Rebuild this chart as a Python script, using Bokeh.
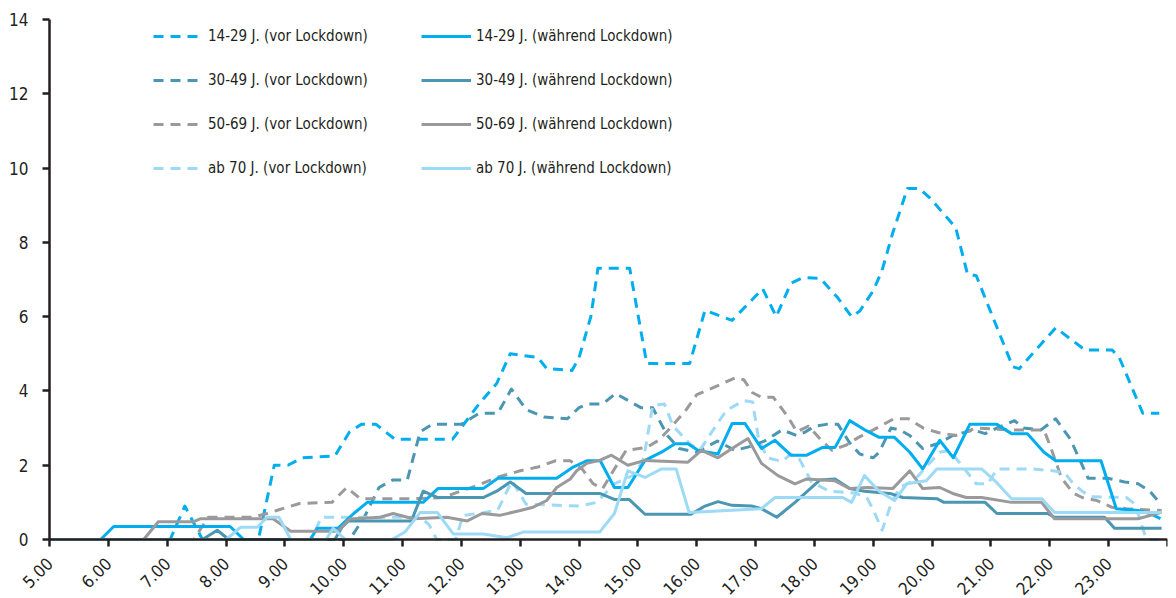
import math
from bokeh.plotting import figure
from bokeh.models import Range1d, FixedTicker, Legend, LegendItem
from bokeh.embed import file_html
from bokeh.resources import INLINE

# ---------------- data (hour of day, value) ----------------
# 14-29 J. (vor Lockdown)
A_t = [5.0, 7.05, 7.3, 7.6, 8.55, 8.82, 9.05, 9.3, 9.85, 10.1,
       10.3, 10.55, 10.87, 11.85, 12.3, 12.6, 12.83, 13.3, 13.45, 13.88,
       14.0, 14.2, 14.32, 14.86, 15.15, 15.88, 16.14, 16.6, 17.12, 17.35,
       17.6, 17.8, 18.1, 18.4, 18.63, 18.77, 19.0, 19.15, 19.33, 19.58,
       19.78, 19.96, 20.4, 20.6, 20.75, 21.37, 21.48, 22.1, 22.6, 23.06,
       23.18, 23.58, 23.86]
A_v = [0, 0, 0.9, 0, 0, 2.0, 2.0, 2.2, 2.25, 2.9,
       3.1, 3.1, 2.7, 2.7, 3.65, 4.2, 5.0, 4.9, 4.6, 4.55,
       4.9, 6.0, 7.3, 7.3, 4.74, 4.74, 6.17, 5.9, 6.75, 6.0,
       6.9, 7.05, 7.03, 6.5, 6.0, 6.15, 6.7, 7.25, 8.25, 9.45,
       9.45, 9.2, 8.4, 7.15, 7.1, 4.65, 4.6, 5.7, 5.1, 5.1,
       4.9, 3.4, 3.4]

# 30-49 J. (vor Lockdown)
B_t = [5.0, 10.1, 10.35, 10.6, 10.83, 11.08, 11.3, 11.5, 12.0, 12.3,
       12.62, 12.85, 13.1, 13.4, 13.8, 14.0, 14.15, 14.4, 14.62, 15.05,
       15.25, 15.5, 15.7, 16.0, 16.35, 16.65, 16.9, 17.15, 17.45, 17.7,
       17.85, 18.0, 18.2, 18.4, 18.6, 18.77, 19.0, 19.1, 19.3, 19.45,
       19.62, 19.84, 20.13, 20.35, 20.7, 20.9, 21.1, 21.4, 21.55, 21.85,
       22.1, 22.35, 22.65, 22.98, 23.27, 23.5, 23.7, 23.86]
B_v = [0, 0, 0.6, 1.4, 1.6, 1.6, 2.9, 3.1, 3.1, 3.4,
       3.4, 4.05, 3.5, 3.3, 3.25, 3.55, 3.65, 3.65, 3.93, 3.55,
       3.55, 2.8, 2.45, 2.35, 2.65, 2.4, 2.5, 2.65, 2.95, 2.8,
       2.9, 3.05, 3.1, 3.1, 2.6, 2.3, 2.2, 2.35, 3.0, 2.95,
       2.8, 2.45, 2.6, 2.8, 2.95, 2.85, 3.0, 3.2, 3.0, 2.95,
       3.25, 2.7, 1.65, 1.65, 1.55, 1.5, 1.3, 1.0]

# 50-69 J. (vor Lockdown)
C_t = [5.0, 7.45, 7.7, 8.45, 8.7, 8.9, 9.25, 9.8, 10.05, 10.28,
       11.2, 11.7, 11.98, 12.27, 12.6, 13.0, 13.3, 13.6, 13.85, 14.05,
       14.24, 14.4, 14.6, 14.8, 15.15, 15.35, 15.55, 15.8, 16.0, 16.3,
       16.65, 16.8, 16.95, 17.1, 17.3, 17.55, 17.7, 17.9, 18.1, 18.3,
       18.55, 18.75, 19.0, 19.35, 19.6, 19.85, 20.1, 20.4, 20.75, 21.3,
       21.9, 22.0, 22.2, 22.4, 22.55, 22.8, 23.05, 23.3, 23.9]
C_v = [0, 0, 0.6, 0.6, 0.7, 0.8, 0.97, 1.0, 1.4, 1.1,
       1.1, 1.13, 1.3, 1.45, 1.67, 1.85, 1.95, 2.12, 2.12, 1.9,
       1.5, 1.37, 1.9, 2.4, 2.48, 2.67, 3.0, 3.45, 3.9, 4.1,
       4.35, 4.3, 3.95, 3.83, 3.83, 3.3, 2.9, 3.05, 2.7, 2.4,
       2.55, 2.75, 2.95, 3.25, 3.25, 3.0, 2.88, 2.8, 3.0, 2.95,
       2.95, 2.55, 1.65, 1.25, 1.13, 1.05, 0.87, 0.83, 0.78]

# ab 70 J. (vor Lockdown)
D_t = [5.0, 9.45, 9.62, 11.3, 11.45, 11.58, 11.9, 12.03, 12.37, 12.62,
       12.86, 13.1, 14.0, 14.3, 14.6, 14.95, 15.1, 15.25, 15.45, 15.6,
       15.88, 16.05, 16.27, 16.5, 16.8, 16.95, 17.05, 17.2, 17.45, 17.6,
       17.75, 17.95, 18.25, 18.7, 18.9, 19.0, 19.15, 19.3, 19.45, 19.7,
       19.95, 20.13, 20.3, 20.6, 20.75, 20.95, 21.1, 21.7, 22.05, 22.25,
       22.4, 22.55, 22.7, 23.3, 23.45, 23.6, 23.65, 23.9]
D_v = [0, 0, 0.6, 0.6, 0.4, 0, 0, 0.65, 0.72, 0.8,
       1.58, 0.95, 0.9, 1.0, 1.5, 1.75, 2.2, 3.6, 3.65, 3.05,
       2.58, 2.4, 2.93, 3.47, 3.74, 3.7, 2.7, 2.2, 2.1, 2.3,
       2.15, 1.55, 1.3, 1.25, 1.1, 0.8, 0.25, 0.95, 1.4, 1.6,
       2.05, 2.35, 2.4, 1.8, 1.5, 1.5, 1.9, 1.9, 1.85, 1.8,
       1.5, 1.3, 1.15, 1.13, 0.95, 0.2, 0, 0]

# 14-29 J. (während Lockdown)
E_t = [5.0, 5.87, 6.09, 8.07, 8.3, 9.43, 9.55, 9.9, 10.17, 10.4,
       11.35, 11.6, 12.37, 12.62, 13.62, 13.9, 14.13, 14.36, 14.6, 14.83,
       15.12, 15.4, 15.63, 15.85, 16.02, 16.36, 16.6, 16.82, 17.1, 17.33,
       17.6, 17.87, 18.14, 18.35, 18.6, 18.88, 19.1, 19.36, 19.62, 19.84,
       20.13, 20.36, 20.64, 21.1, 21.35, 21.62, 21.9, 22.1, 22.87, 23.13,
       23.5, 23.7, 23.88]
E_v = [0, 0, 0.35, 0.35, 0, 0, 0.3, 0.3, 0.7, 1.0,
       1.0, 1.37, 1.37, 1.65, 1.65, 1.95, 2.12, 2.12, 1.4, 1.4,
       2.13, 2.35, 2.58, 2.58, 2.4, 2.3, 3.12, 3.12, 2.45, 2.67,
       2.27, 2.27, 2.48, 2.48, 3.2, 2.93, 2.75, 2.75, 2.35, 1.9,
       2.67, 2.2, 3.1, 3.1, 2.85, 2.85, 2.35, 2.12, 2.12, 0.83,
       0.78, 0.7, 0.56]

# 30-49 J. (während Lockdown)
F_t = [5.0, 7.6, 7.85, 8.05, 9.85, 9.97, 10.08, 11.15, 11.35, 11.6,
       12.37, 12.6, 12.83, 13.1, 14.35, 14.6, 14.85, 15.12, 15.9, 16.14,
       16.36, 16.6, 16.93, 17.1, 17.36, 17.67, 18.09, 18.35, 18.6, 18.85,
       19.28, 19.5, 20.08, 20.2, 20.9, 21.1, 21.96, 22.08, 22.93, 23.1,
       23.9]
F_v = [0, 0, 0.25, 0, 0, 0.33, 0.5, 0.5, 1.3, 1.13,
       1.13, 1.3, 1.55, 1.24, 1.24, 1.08, 1.08, 0.68, 0.68, 0.9,
       1.02, 0.92, 0.9, 0.83, 0.6, 1.0, 1.6, 1.63, 1.37, 1.3,
       1.24, 1.13, 1.1, 1.0, 1.0, 0.7, 0.7, 0.6, 0.6, 0.3,
       0.3]

# 50-69 J. (während Lockdown)
G_t = [5.0, 6.6, 6.85, 7.45, 7.57, 8.8, 9.1, 9.9, 10.1, 10.62,
       10.84, 11.18, 11.75, 12.1, 12.35, 12.65, 13.0, 13.22, 13.45, 13.62,
       13.85, 13.96, 14.13, 14.35, 14.55, 14.83, 15.12, 15.85, 16.08, 16.36,
       16.6, 16.87, 17.1, 17.38, 17.67, 17.87, 18.35, 18.6, 18.9, 19.33,
       19.62, 19.84, 20.13, 20.35, 20.58, 20.84, 21.35, 21.86, 22.08, 23.5,
       23.9]
G_v = [0, 0, 0.48, 0.48, 0.56, 0.56, 0.22, 0.22, 0.55, 0.6,
       0.7, 0.56, 0.6, 0.5, 0.7, 0.65, 0.78, 0.87, 1.05, 1.4,
       1.63, 1.85, 2.05, 2.13, 2.27, 2.0, 2.13, 2.08, 2.4, 2.2,
       2.45, 2.72, 2.05, 1.72, 1.5, 1.63, 1.58, 1.37, 1.4, 1.37,
       1.85, 1.37, 1.4, 1.24, 1.13, 1.13, 1.0, 1.0, 0.56, 0.56,
       0.73]

# ab 70 J. (während Lockdown)
H_t = [5.0, 8.0, 8.25, 8.53, 8.7, 8.9, 9.1, 9.7, 9.82, 10.03,
       10.82, 11.04, 11.3, 11.59, 11.86, 12.37, 12.78, 13.05, 14.35, 14.6,
       14.83, 15.12, 15.4, 15.65, 15.87, 17.1, 17.33, 18.48, 18.63, 18.85,
       19.1, 19.36, 19.57, 19.9, 20.08, 20.84, 21.1, 21.35, 21.86, 22.08,
       23.9]
H_v = [0, 0, 0.33, 0.33, 0.6, 0.6, 0, 0, 0.3, 0,
       0, 0.2, 0.73, 0.73, 0.15, 0.15, 0.05, 0.2, 0.2, 0.7,
       1.85, 1.67, 1.9, 1.9, 0.73, 0.83, 1.13, 1.13, 1.0, 1.72,
       1.3, 1.05, 1.5, 1.58, 1.9, 1.9, 1.53, 1.1, 1.1, 0.73,
       0.73]

x_ticks = list(range(5, 25))
x_tick_labels = [f"{h}.00" for h in range(5, 24)] + [""]
y_ticks = [0, 2, 4, 6, 8, 10, 12, 14]

labels_vor = ["14-29 J. (vor Lockdown)", "30-49 J. (vor Lockdown)",
              "50-69 J. (vor Lockdown)", "ab 70 J. (vor Lockdown)"]
labels_waehrend = ["14-29 J. (während Lockdown)", "30-49 J. (während Lockdown)",
                   "50-69 J. (während Lockdown)", "ab 70 J. (während Lockdown)"]

COLORS = ["#00AEEF", "#4A96B3", "#9A9A9C", "#9DDAF6"]
FONT = "DejaVu Sans Condensed"
TXT = "#231F20"

# ---------------- figure ----------------
# The frame fills the whole page except a thin right margin; both axes are
# pinned (fixed_location) at x=5 / y=0 so their labels are drawn inside it.
PX_PER_H = 1118 / 19      # 5.00 .. 24.00 spans 1118 px
PX_PER_U = 520 / 14       # 0 .. 14 spans 520 px
X_MIN = 5 - 49 / PX_PER_H
Y_MIN = -59 / PX_PER_U
Y_MAX = 14 + 19 / PX_PER_U
p = figure(width=1176, height=598, output_backend="svg", toolbar_location=None,
           x_range=Range1d(X_MIN, 24), y_range=Range1d(Y_MIN, Y_MAX),
           min_border_left=0, min_border_right=9, min_border_top=0,
           min_border_bottom=0)
p.outline_line_color = None
p.xgrid.visible = False
p.ygrid.visible = False
p.background_fill_color = "white"

vor = [(A_t, A_v), (B_t, B_v), (C_t, C_v), (D_t, D_v)]
waehrend = [(E_t, E_v), (F_t, F_v), (G_t, G_v), (H_t, H_v)]

r_vor, r_wae = [], []
for i in range(4):
    t, v = vor[i]
    r_vor.append(p.line(t, v, line_color=COLORS[i], line_width=3,
                        line_dash="10 7", line_join="round"))
for i in range(4):
    t, v = waehrend[i]
    r_wae.append(p.line(t, v, line_color=COLORS[i], line_width=3,
                        line_join="round"))

# ---------------- axes ----------------
for ax in (p.xaxis[0], p.yaxis[0]):
    ax.axis_line_color = TXT
    ax.axis_line_width = 2.5
    ax.major_tick_line_color = TXT
    ax.major_tick_line_width = 2.5
    ax.major_tick_out = 7
    ax.major_tick_in = 0
    ax.minor_tick_line_color = None
    ax.major_label_text_font = FONT
    ax.major_label_text_font_size = "17px"
    ax.major_label_text_color = TXT

p.xaxis.fixed_location = 0
p.xaxis.bounds = (5, 24)
p.xaxis.ticker = FixedTicker(ticks=x_ticks)
p.xaxis.major_label_overrides = {t: l for t, l in zip(x_ticks, x_tick_labels)}
p.xaxis.major_label_orientation = math.pi / 4
p.xaxis.major_label_standoff = 14

p.yaxis.fixed_location = 5
p.yaxis.bounds = (0, 14)
p.yaxis.ticker = FixedTicker(ticks=y_ticks)
p.yaxis.major_label_standoff = 14

# ---------------- legends ----------------
def make_legend(labels, renderers, loc):
    leg = Legend(items=[LegendItem(label=l, renderers=[r]) for l, r in zip(labels, renderers)],
                 location=loc, orientation="vertical",
                 glyph_width=50, glyph_height=20, label_height=20,
                 label_standoff=5, spacing=24, padding=0, margin=0,
                 border_line_color=None, background_fill_alpha=0,
                 label_text_font=FONT, label_text_font_size="15px",
                 label_text_color=TXT)
    return leg

p.add_layout(make_legend(labels_vor, r_vor, (153, 420)))
p.add_layout(make_legend(labels_waehrend, r_wae, (421, 420)))

open("out.html", "w").write(file_html(p, INLINE))
